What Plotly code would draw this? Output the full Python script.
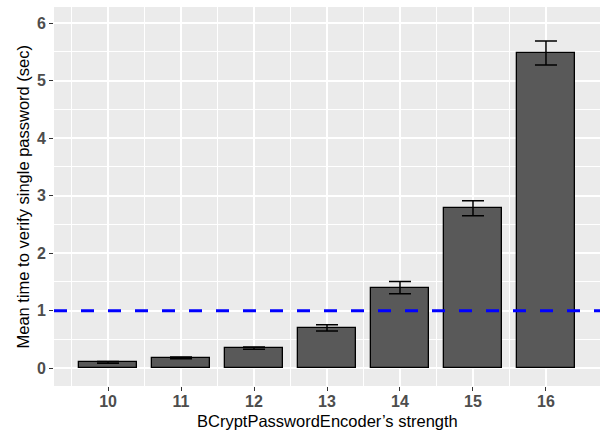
import plotly.graph_objects as go

strengths = [10, 11, 12, 13, 14, 15, 16]
mean_time = [0.10, 0.18, 0.35, 0.70, 1.40, 2.78, 5.48]
err_time = [0.015, 0.015, 0.02, 0.055, 0.105, 0.13, 0.21]
y_ticks = [0, 1, 2, 3, 4, 5, 6]
threshold = 1.0

x_title = "BCryptPasswordEncoder\u2019s strength"
y_title = "Mean time to verify single password (sec)"

fig = go.Figure()
fig.add_trace(go.Bar(
    x=strengths, y=mean_time, width=0.8,
    marker=dict(color="#595959", line=dict(color="black", width=1.3)),
    error_y=dict(type="data", array=err_time, visible=True,
                 color="black", thickness=1.5, width=11),
    showlegend=False,
))

fig.add_shape(type="line", xref="paper", yref="y", x0=0, x1=1,
              y0=threshold, y1=threshold,
              line=dict(color="#0000FF", width=3, dash="13px,14px"))

tickfont = dict(family="Liberation Sans, Arial", size=16, color="#4D4D4D", weight="bold")
titlefont = dict(size=16.5, color="black", family="Liberation Sans, Arial")

fig.update_layout(
    width=600, height=432,
    margin=dict(l=54, r=0, t=7, b=46, autoexpand=False),
    paper_bgcolor="white", plot_bgcolor="#EBEBEB",
    font=dict(family="Liberation Sans, Arial", color="black"),
    bargap=0,
    xaxis=dict(
        range=[9.26, 16.74], tickmode="array", tickvals=strengths,
        ticktext=[str(s) for s in strengths],
        showgrid=True, gridcolor="white", gridwidth=1.5,
        minor=dict(tickmode="array", tickvals=[s + 0.5 for s in strengths[:-1]] + [9.5],
                   showgrid=True, gridcolor="white", gridwidth=0.7, ticks=""),
        ticks="outside", ticklen=4, tickwidth=1, tickcolor="#333333",
        tickfont=tickfont, zeroline=False, showline=False, automargin=False,
        ticklabelstandoff=-3,
    ),
    yaxis=dict(
        range=[-0.31, 6.28], tickmode="array", tickvals=y_ticks,
        ticktext=[str(v) for v in y_ticks],
        showgrid=True, gridcolor="white", gridwidth=1.5,
        minor=dict(tickmode="array", tickvals=[v + 0.5 for v in y_ticks],
                   showgrid=True, gridcolor="white", gridwidth=0.7, ticks=""),
        ticks="outside", ticklen=4, tickwidth=1, tickcolor="#333333",
        tickfont=tickfont, zeroline=False, showline=False, automargin=False,
    ),
    annotations=[
        dict(text=x_title, xref="paper", yref="paper", x=0.5, y=-0.121,
             xanchor="center", yanchor="bottom", showarrow=False, font=titlefont),
        dict(text=y_title, xref="paper", yref="paper", x=-0.0586, y=0.5,
             xanchor="center", yanchor="middle", showarrow=False, textangle=-90,
             font=titlefont),
    ],
)

fig.write_html("out.html", config={"displayModeBar": False},
               post_script="document.body.style.margin='0';")
